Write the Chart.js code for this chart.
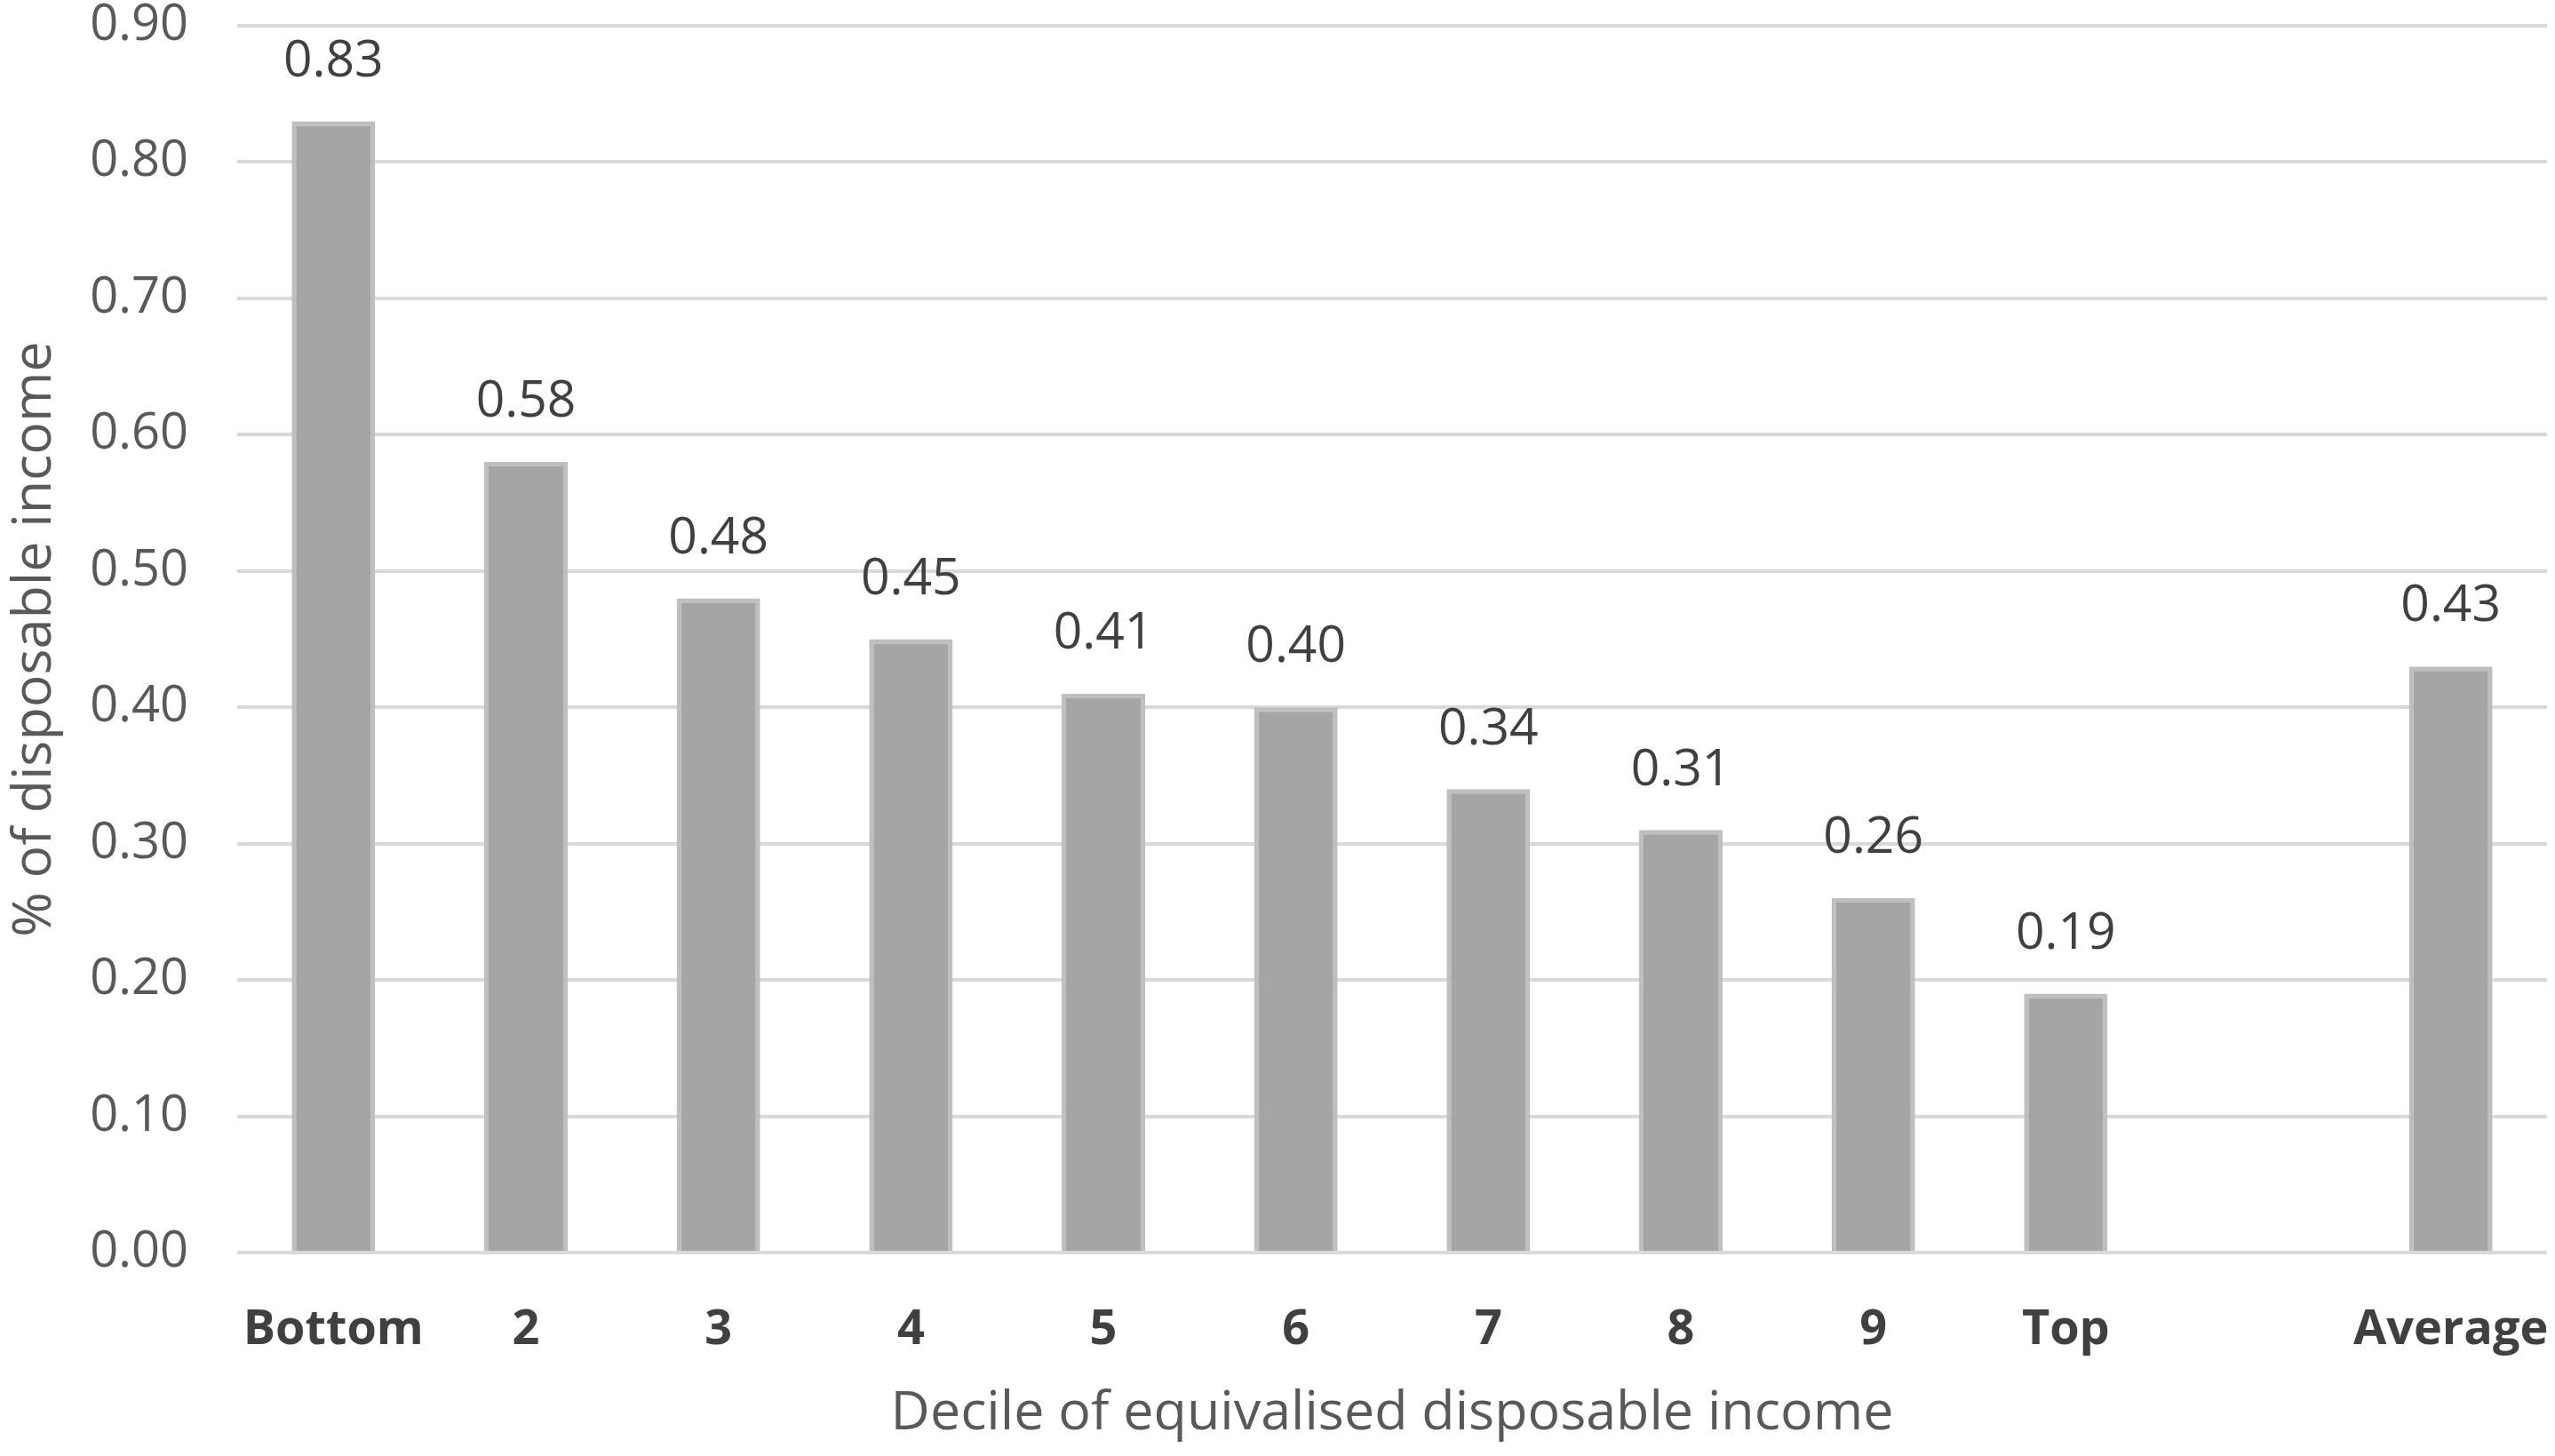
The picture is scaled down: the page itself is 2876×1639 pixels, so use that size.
<!DOCTYPE html>
<html>
<head>
<meta charset="utf-8">
<script src="https://cdn.jsdelivr.net/npm/chart.js@4.4.0/dist/chart.umd.min.js"></script>
<style>
  html, body { margin: 0; padding: 0; background: #ffffff; }
  #wrap { width: 2876px; height: 1639px; }
</style>
</head>
<body>
<div id="wrap"><canvas id="incomeChart"></canvas></div>
<script>
// deciles, then an empty slot, then the average
const categories = ["Bottom", "2", "3", "4", "5", "6", "7", "8", "9", "Top", "", "Average"]
const shareOfIncome = [0.83, 0.58, 0.48, 0.45, 0.41, 0.40, 0.34, 0.31, 0.26, 0.19, null, 0.43]
const yTicks = [0.00, 0.10, 0.20, 0.30, 0.40, 0.50, 0.60, 0.70, 0.80, 0.90]

const xTitle = "Decile of equivalised disposable income"
const yTitle = "% of disposable income"

const fontName = "'Open Sans', 'Noto Sans', sans-serif"

// writes the value above each bar
const valueLabels = {
  id: "valueLabels",
  afterDatasetsDraw(chart) {
    const ctx = chart.ctx
    const meta = chart.getDatasetMeta(0)
    ctx.save()
    ctx.font = "57px " + fontName
    ctx.fillStyle = "#404040"
    ctx.textAlign = "center"
    ctx.textBaseline = "middle"
    meta.data.forEach((bar, i) => {
      const v = shareOfIncome[i]
      if (v === null) return
      ctx.fillText(v.toFixed(2), bar.x, bar.y - 67)
    })
    ctx.restore()
  }
}

const chartEl = document.getElementById("incomeChart")

incomeChart = new Chart(chartEl, {
  type: "bar",
  data: {
    labels: categories,
    datasets: [{
      data: shareOfIncome,
      backgroundColor: "#a5a5a5",
      borderColor: "#bfbfbf",
      borderWidth: 5,
      barPercentage: 0.434,
      categoryPercentage: 1.0
    }]
  },
  options: {
    responsive: true,
    maintainAspectRatio: false,
    animation: false,
    layout: { padding: { top: 29, left: 3, right: 9, bottom: 0 } },
    plugins: {
      legend: { display: false },
      tooltip: { enabled: false }
    },
    scales: {
      x: {
        grid: { display: false },
        border: { display: false },
        ticks: {
          color: "#404040",
          padding: 47,
          maxRotation: 0,
          autoSkip: false,
          font: { family: fontName, size: 54, weight: "bold" }
        },
        title: {
          display: true,
          text: xTitle,
          color: "#595959",
          padding: { top: 0, bottom: 11 },
          font: { family: fontName, size: 61 }
        },
        afterFit(scale) {
          scale.height = 229
          // no extra room for the outer labels
          scale.paddingLeft = 0
          scale.paddingRight = 0
        }
      },
      y: {
        min: 0,
        max: 0.9,
        afterBuildTicks(scale) {
          scale.ticks = yTicks.map(v => ({ value: v }))
        },
        grid: { color: "#d9d9d9", lineWidth: 4, drawTicks: false },
        border: { display: false },
        ticks: {
          color: "#595959",
          padding: 55,
          font: { family: fontName, size: 56 },
          callback: v => Number(v).toFixed(2)
        },
        title: {
          display: true,
          text: yTitle,
          color: "#595959",
          padding: { top: 0, bottom: 0 },
          font: { family: fontName, size: 61 }
        },
        afterFit(scale) {
          scale.width = 264
          scale.paddingTop = 0
          scale.paddingBottom = 0
        }
      }
    }
  },
  plugins: [valueLabels]
})
</script>
</body>
</html>
